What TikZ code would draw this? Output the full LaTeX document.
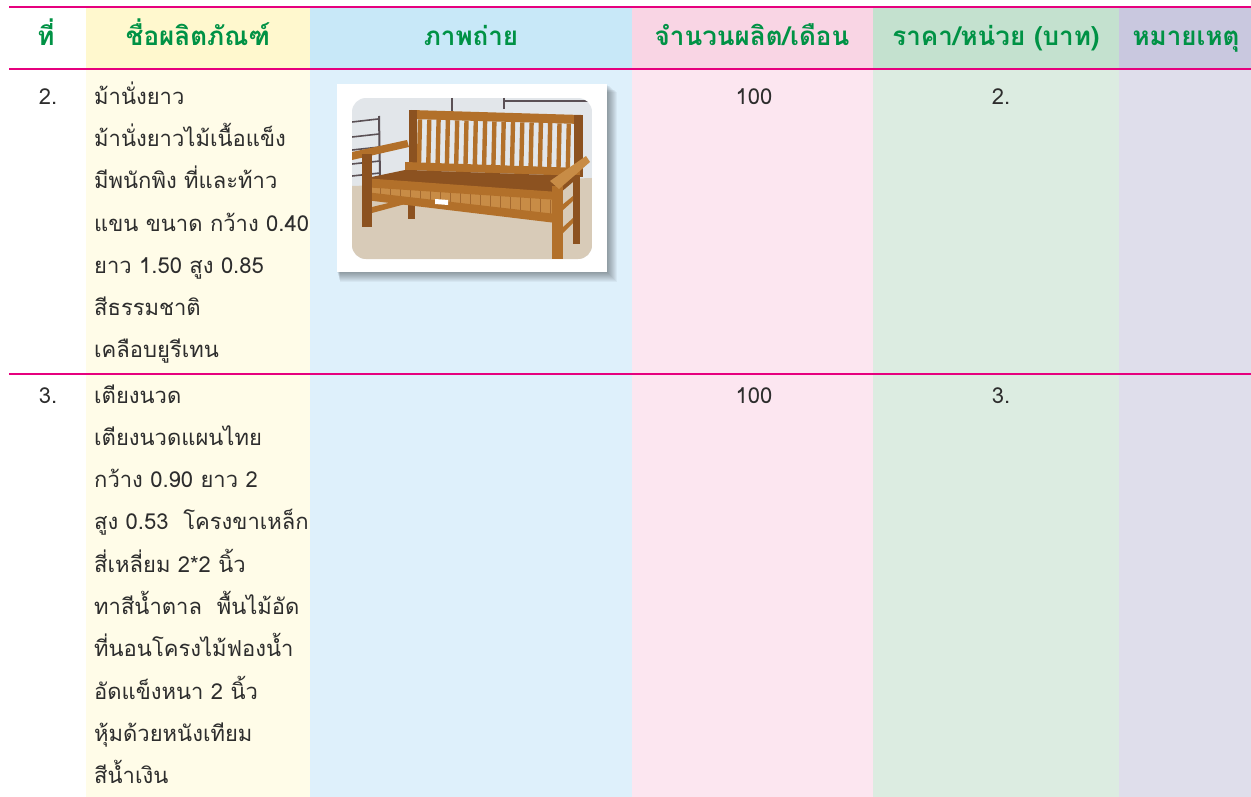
\documentclass[tikz,border=0pt]{standalone}
\usepackage{fontspec}
\setmainfont[Script=Thai]{Loma}
\definecolor{mag}{RGB}{230,0,126}
\definecolor{hgreen}{RGB}{0,146,69}
\definecolor{txt}{RGB}{45,45,45}
\definecolor{yH}{RGB}{255,248,206}
\definecolor{yB}{RGB}{255,252,232}
\definecolor{bH}{RGB}{200,232,248}
\definecolor{bB}{RGB}{222,240,251}
\definecolor{pH}{RGB}{249,213,228}
\definecolor{pB}{RGB}{252,230,240}
\definecolor{gH}{RGB}{196,225,207}
\definecolor{gB}{RGB}{220,236,225}
\definecolor{lH}{RGB}{201,200,223}
\definecolor{lB}{RGB}{223,222,235}
\definecolor{wall}{RGB}{226,230,234}
\definecolor{floorc}{RGB}{216,203,184}
\definecolor{wood}{RGB}{178,112,42}
\definecolor{woodd}{RGB}{140,82,32}
\definecolor{woodl}{RGB}{200,140,70}
\definecolor{rack}{RGB}{90,80,85}
\begin{document}
\begin{tikzpicture}[x=1pt,y=-1pt,
  hdr/.style={font=\fontsize{26}{26}\selectfont\bfseries, text=hgreen, anchor=base, inner sep=0pt},
  body/.style={font=\fontsize{22}{22}\selectfont, text=txt, anchor=base west, inner sep=0pt},
  num/.style={body, anchor=base},
  rule/.style={draw=mag, line width=2.2pt}]
\useasboundingbox (0,0) rectangle (1251,797);
\fill[white] (0,0) rectangle (1251,797);
% column backgrounds
\fill[yH] (86,7) rectangle (310,69);   \fill[yB] (86,69) rectangle (310,797);
\fill[bH] (310,7) rectangle (632,69);  \fill[bB] (310,69) rectangle (632,797);
\fill[pH] (632,7) rectangle (873,69);  \fill[pB] (632,69) rectangle (873,797);
\fill[gH] (873,7) rectangle (1119,69); \fill[gB] (873,69) rectangle (1119,797);
\fill[lH] (1119,7) rectangle (1251,69);\fill[lB] (1119,69) rectangle (1251,797);
% rules
\coordinate (r1a) at (9,7);   \coordinate (r1b) at (1251,7);
\coordinate (r2a) at (9,69);  \coordinate (r2b) at (1251,69);
\coordinate (r3a) at (9,374); \coordinate (r3b) at (1251,374);
\draw[rule] (r1a) -- (r1b);
\draw[rule] (r2a) -- (r2b);
\draw[rule] (r3a) -- (r3b);
% header
\node[hdr] (h1) at (46,46) {ที่};
\node[hdr] (h2) at (198,46) {ชื่อผลิตภัณฑ์};
\node[hdr] (h3) at (471,46) {ภาพถ่าย};
\node[hdr] (h4) at (752,46) {จำนวนผลิต/เดือน};
\node[hdr] (h5) at (996,46) {ราคา/หน่วย (บาท)};
\node[hdr] (h6) at (1186,46) {หมายเหตุ};
% row 2
\node[num] (n2) at (48,105) {2.};
\node[body] (a1) at (94,105) {ม้านั่งยาว};
\node[body] (a2) at (94,147) {ม้านั่งยาวไม้เนื้อแข็ง};
\node[body] (a3) at (94,189) {มีพนักพิง ที่และท้าว};
\node[body] (a4) at (94,231) {แขน ขนาด กว้าง 0.40};
\node[body] (a5) at (94,273) {ยาว 1.50 สูง 0.85};
\node[body] (a6) at (94,315) {สีธรรมชาติ};
\node[body] (a7) at (94,357) {เคลือบยูรีเทน};
\node[num] (q2) at (754,105) {100};
\node[num] (p2) at (1001,105) {2.};
% row 3
\node[num] (n3) at (48,403) {3.};
\node[body] (b1) at (94,403) {เตียงนวด};
\node[body] (b2) at (94,445.3) {เตียงนวดแผนไทย};
\node[body] (b3) at (94,487.6) {กว้าง 0.90 ยาว 2};
\node[body] (b4) at (94,529.9) {สูง 0.53 \ โครงขาเหล็ก};
\node[body] (b5) at (94,572.2) {สี่เหลี่ยม 2*2 นิ้ว};
\node[body] (b6) at (94,614.5) {ทาสีน้ำตาล \ พื้นไม้อัด};
\node[body] (b7) at (94,656.8) {ที่นอนโครงไม้ฟองน้ำ};
\node[body] (b8) at (94,699.1) {อัดแข็งหนา 2 นิ้ว};
\node[body] (b9) at (94,741.4) {หุ้มด้วยหนังเทียม};
\node[body] (b10) at (94,783.7) {สีน้ำเงิน};
\node[num] (q3) at (754,403) {100};
\node[num] (p3) at (1001,403) {3.};
% photo frame with soft shadow
\foreach \i in {1,...,10}{
  \fill[black, opacity=0.04] (337+0.3*\i,84+0.8*\i) rectangle (607+\i,272+\i);
}
\fill[white] (337,84) rectangle (607,272);
\begin{scope}
\clip[rounded corners=14pt] (352,98) rectangle (592,259);
\fill[wall] (352,98) rectangle (592,259);
\fill[floorc] (352,186) -- (592,178) -- (592,259) -- (352,259) -- cycle;
% wall details
\draw[rack, line width=1.5pt] (452,98) -- (452,111);
\draw[rack, line width=1.5pt] (504,98) -- (504,109) (504,101) -- (592,101);
% shoe rack
\draw[rack, line width=1.6pt] (352,122) -- (378,119) (352,137) -- (379,134) (352,150) -- (380,147) (352,164) -- (380,161) (352,176) -- (380,173);
\draw[rack, line width=2pt] (379,116) -- (380,176);
% back rest
\fill[wood] (411,110) -- (581,115) -- (581,124) -- (411,119) -- cycle;
\foreach \k in {0,...,16}{
  \pgfmathsetmacro{\xx}{420+\k*9.3}
  \pgfmathsetmacro{\yt}{119+(\xx-411)*5/170}
  \pgfmathsetmacro{\yb}{163+(\xx-405)*6/174}
  \fill[wood] (\xx-2.2,\yt) -- (\xx+2.2,\yt) -- (\xx+1.2,\yb) -- (\xx-3.2,\yb) -- cycle;
}
\fill[woodd] (409,110) rectangle (417,171);
\fill[woodd] (574,115) rectangle (583,177);
\fill[wood] (405,162) -- (580,168) -- (580,176) -- (405,170) -- cycle;
% seat
\fill[woodd] (405,170) -- (580,176) -- (560,193) -- (362,179) -- cycle;
% left arm and legs
\fill[wood] (352,152) -- (407,140) -- (409,147) -- (352,160) -- cycle;
\fill[woodd] (408,170) rectangle (415,219);
\fill[wood] (372,207) -- (409,198) -- (409,203) -- (372,213) -- cycle;
% apron with slats
\fill[woodl] (362,186) -- (558,199) -- (558,216) -- (365,195) -- cycle;
\foreach \k in {0,...,18}{
  \draw[woodd, line width=0.8pt, opacity=0.6] (370+\k*10,{187+\k*0.7}) -- (370+\k*10,{195+\k*1.1});
}
\fill[wood] (362,178) -- (558,192) -- (558,200) -- (362,187) -- cycle;
\fill[wood] (365,192) -- (556,214) -- (556,223) -- (365,200) -- cycle;
\fill[white] (435,199) -- (448,200) -- (448,205) -- (435,204) -- cycle;
\fill[woodd] (362,154) rectangle (372,227);
% right side
\fill[woodd] (573,175) rectangle (580,244);
\fill[wood] (562,205) -- (573,196) -- (573,201) -- (562,211) -- cycle;
\fill[wood] (562,228) -- (573,218) -- (573,223) -- (562,234) -- cycle;
\fill[wood] (552,186) rectangle (563,259);
\fill[woodl] (550,181) -- (586,156) -- (590,162) -- (559,189) -- cycle;
\end{scope}
\end{tikzpicture}
\end{document}
